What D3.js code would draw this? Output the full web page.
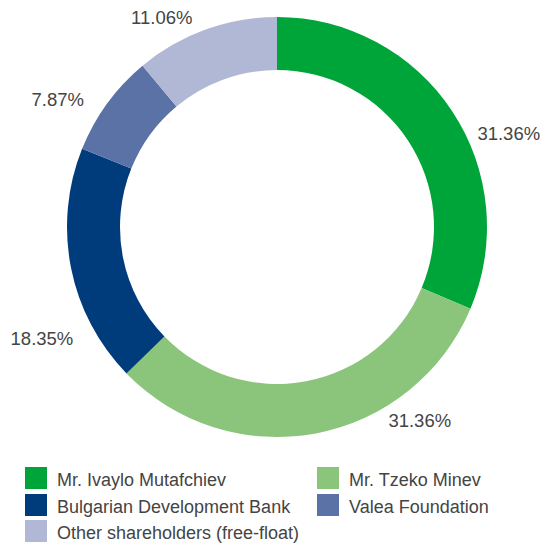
<!DOCTYPE html>
<html>
<head>
<meta charset="utf-8">
<script src="https://cdn.jsdelivr.net/npm/d3@7"></script>
<style>
  html, body { margin: 0; padding: 0; background: #fff; }
  svg text { font-family: "Liberation Sans", Arial, sans-serif; fill: #444444; }
</style>
</head>
<body>
<svg id="chart" width="545" height="545"></svg>
<script>
// Shareholder structure
const shareholders = [
  "Mr. Ivaylo Mutafchiev",
  "Mr. Tzeko Minev",
  "Bulgarian Development Bank",
  "Valea Foundation",
  "Other shareholders (free-float)"
];
const shares = [31.36, 31.36, 18.35, 7.87, 11.06];
const shareLabels = ["31.36%", "31.36%", "18.35%", "7.87%", "11.06%"];
const palette = ["#00a539", "#8bc47b", "#003c7c", "#5b72a6", "#b0b8d6"];

const svg = d3.select("#chart");
const cx = 277, cy = 227, outerR = 210, innerR = 157;

const color = d3.scaleOrdinal().domain(shareholders).range(palette);

const pie = d3.pie().value(d => d.value).sort(null);
const arc = d3.arc().innerRadius(innerR).outerRadius(outerR);

const data = shareholders.map((name, i) => ({ name, value: shares[i], label: shareLabels[i] }));
const arcs = pie(data);

const g = svg.append("g").attr("transform", `translate(${cx},${cy})`);
g.selectAll("path.slice")
  .data(arcs)
  .join("path")
  .attr("class", "slice")
  .attr("d", arc)
  .attr("fill", d => color(d.data.name));

// Percentage labels sit outside the ring; angle (deg, clockwise from top) and radius per slice
const labelPlacement = [
  { angle: 68, r: 250 },
  { angle: 143.5, r: 240 },
  { angle: 244.7, r: 260 },
  { angle: 300.3, r: 254 },
  { angle: 331.3, r: 240 }
];
g.selectAll("text.pct")
  .data(arcs)
  .join("text")
  .attr("class", "pct")
  .attr("text-anchor", "middle")
  .attr("font-size", "18.5px")
  .attr("x", (d, i) => labelPlacement[i].r * Math.sin(labelPlacement[i].angle * Math.PI / 180))
  .attr("y", (d, i) => -labelPlacement[i].r * Math.cos(labelPlacement[i].angle * Math.PI / 180) + 7)
  .text(d => d.data.label);

// Legend: two columns
const legendCols = [25, 317];
const legendRows = [467, 494, 520];
const legend = svg.append("g");
const items = legend.selectAll("g.item")
  .data(shareholders)
  .join("g")
  .attr("class", "item")
  .attr("transform", (d, i) => `translate(${legendCols[i % 2]},${legendRows[Math.floor(i / 2)]})`);
items.append("rect")
  .attr("width", 22).attr("height", 22)
  .attr("fill", d => color(d));
items.append("text")
  .attr("x", 32).attr("y", 19)
  .attr("font-size", "18px")
  .text(d => d);
</script>
</body>
</html>
